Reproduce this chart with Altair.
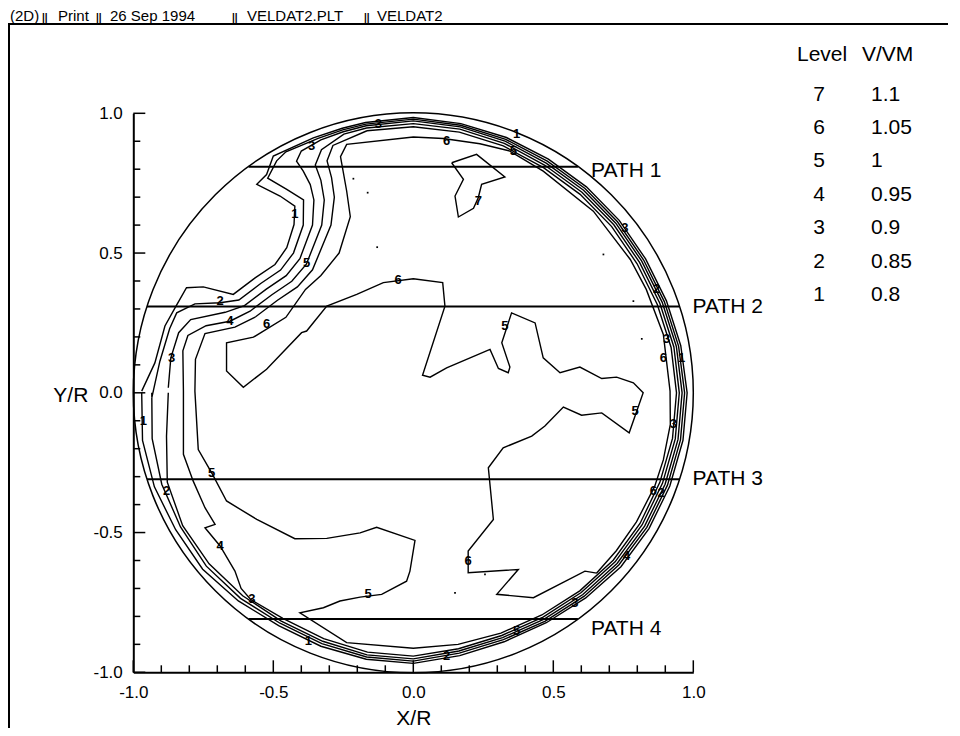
import altair as alt
import numpy as np
import pandas as pd

FONT = "Liberation Sans"
W, H = 560, 559

# ---------------- data ----------------
# wall bundle: station angles (deg) and radii of contours 1..5
rim_angles = [105, 100, 90, 80, 70, 60, 50, 40, 30, 20, 10, 0, -10, -20, -30,
              -40, -50, -60, -70, -80, -90, -100, -110, -120, -130, -140, -150,
              -160, -170, -180]
c1_rim_r = [0.980, 0.982, 0.985, 0.978, 0.972, 0.965, 0.962, 0.960, 0.958, 0.962,
            0.970, 0.978, 0.978, 0.975, 0.972, 0.968, 0.958, 0.950, 0.948, 0.955,
            0.968, 0.968, 0.965, 0.962, 0.972, 0.982, 0.980, 0.984, 0.982, 0.970]
c2_rim_r = [0.974, 0.976, 0.979, 0.972, 0.965, 0.957, 0.954, 0.952, 0.950, 0.954,
            0.962, 0.969, 0.969, 0.966, 0.963, 0.958, 0.950, 0.943, 0.940, 0.946,
            0.960, 0.960, 0.955, 0.952, 0.960, 0.965, 0.960, 0.956, 0.947, 0.934]
c3_rim_r = [0.967, 0.970, 0.973, 0.966, 0.958, 0.949, 0.946, 0.944, 0.942, 0.946,
            0.954, 0.960, 0.960, 0.957, 0.954, 0.950, 0.942, 0.935, 0.932, 0.938,
            0.952, 0.952, 0.946, 0.943, 0.948, 0.952, 0.951, 0.935, 0.895, 0.875]
c4_rim_angles = rim_angles[:24]
c4_rim_r = [0.958, 0.962, 0.963, 0.958, 0.950, 0.940, 0.937, 0.935, 0.933, 0.937,
            0.945, 0.950, 0.950, 0.947, 0.944, 0.941, 0.933, 0.927, 0.924, 0.930,
            0.942, 0.942, 0.936, 0.932]
c5_rim_angles = rim_angles[1:19]
c5_rim_r = [0.952, 0.952, 0.947, 0.940, 0.930, 0.927, 0.925, 0.923, 0.927, 0.935,
            0.940, 0.940, 0.937, 0.935, 0.932, 0.925, 0.918, 0.915]

# left "arm" of contours 1..5 (x/R, y/R)
c1_arm = [(-0.970, 0.006), (-0.923, 0.107), (-0.887, 0.239), (-0.851, 0.304),
          (-0.810, 0.376), (-0.750, 0.379), (-0.643, 0.352), (-0.565, 0.411),
          (-0.494, 0.459), (-0.452, 0.519), (-0.426, 0.602), (-0.423, 0.668),
          (-0.476, 0.704), (-0.559, 0.746), (-0.524, 0.781), (-0.500, 0.847),
          (-0.357, 0.912)]
c2_arm = [(-0.934, -0.018), (-0.905, 0.113), (-0.870, 0.230), (-0.845, 0.286),
          (-0.780, 0.318), (-0.690, 0.322), (-0.623, 0.332), (-0.545, 0.391),
          (-0.474, 0.439), (-0.428, 0.500), (-0.393, 0.600), (-0.392, 0.690),
          (-0.452, 0.728), (-0.520, 0.768), (-0.488, 0.830), (-0.455, 0.862),
          (-0.340, 0.910)]
c3_arm = [(-0.875, 0.018), (-0.866, 0.125), (-0.838, 0.215), (-0.795, 0.262),
          (-0.672, 0.288), (-0.603, 0.312), (-0.525, 0.371), (-0.454, 0.419),
          (-0.405, 0.480), (-0.360, 0.600), (-0.355, 0.690), (-0.368, 0.745),
          (-0.393, 0.793), (-0.417, 0.829), (-0.400, 0.865), (-0.330, 0.905)]
c4_arm = [(-0.821, 0.006), (-0.823, 0.150), (-0.805, 0.205), (-0.740, 0.240),
          (-0.655, 0.256), (-0.583, 0.292), (-0.505, 0.351), (-0.434, 0.399),
          (-0.382, 0.460), (-0.327, 0.600), (-0.318, 0.690), (-0.330, 0.760),
          (-0.350, 0.815), (-0.328, 0.870)]
c4_zigzag = [(-0.580, -0.740), (-0.615, -0.700), (-0.637, -0.638), (-0.690, -0.548),
             (-0.744, -0.483), (-0.708, -0.471), (-0.744, -0.411), (-0.786, -0.316),
             (-0.821, -0.220), (-0.821, 0.006)]
c5_loop = [(0.160, -0.900), (0.000, -0.914), (-0.238, -0.894), (-0.405, -0.787),
           (-0.321, -0.769), (-0.262, -0.745), (-0.190, -0.731), (-0.113, -0.721),
           (-0.024, -0.674), (-0.012, -0.638), (0.006, -0.528), (-0.131, -0.481),
           (-0.190, -0.501), (-0.309, -0.521), (-0.423, -0.522), (-0.559, -0.453),
           (-0.667, -0.387), (-0.718, -0.290), (-0.768, -0.203), (-0.780, 0.006)]
c5_arm = [(-0.778, 0.120), (-0.744, 0.212), (-0.637, 0.235), (-0.563, 0.272),
          (-0.485, 0.331), (-0.414, 0.379), (-0.360, 0.440), (-0.294, 0.600),
          (-0.282, 0.700), (-0.292, 0.770), (-0.308, 0.830), (-0.287, 0.885)]
c6_line = [(0.655, -0.645), (0.613, -0.638), (0.429, -0.733), (0.298, -0.721),
           (0.375, -0.632), (0.196, -0.644), (0.196, -0.566), (0.286, -0.453),
           (0.268, -0.268), (0.321, -0.197), (0.423, -0.155), (0.470, -0.119),
           (0.536, -0.051), (0.601, -0.080), (0.673, -0.072), (0.771, -0.143),
           (0.821, 0.000), (0.786, 0.036), (0.726, 0.056), (0.673, 0.051),
           (0.595, 0.092), (0.524, 0.072), (0.464, 0.125), (0.435, 0.250),
           (0.351, 0.286), (0.316, 0.179), (0.345, 0.092), (0.339, 0.072),
           (0.304, 0.087), (0.274, 0.155), (0.119, 0.089), (0.060, 0.056),
           (0.033, 0.063), (0.113, 0.310), (0.105, 0.394), (0.000, 0.408),
           (-0.107, 0.394), (-0.202, 0.352), (-0.309, 0.310), (-0.381, 0.221),
           (-0.399, 0.215), (-0.524, 0.084), (-0.607, 0.020), (-0.667, 0.078),
           (-0.667, 0.179), (-0.571, 0.199), (-0.455, 0.270), (-0.385, 0.370),
           (-0.330, 0.420), (-0.265, 0.500), (-0.225, 0.630), (-0.238, 0.722),
           (-0.260, 0.845), (-0.238, 0.889), (0.000, 0.915), (0.107, 0.910),
           (0.238, 0.891), (0.345, 0.865), (0.464, 0.793), (0.643, 0.650),
           (0.775, 0.477), (0.832, 0.370), (0.893, 0.209), (0.917, 0.006),
           (0.918, -0.113), (0.893, -0.240), (0.862, -0.335), (0.797, -0.462),
           (0.725, -0.565), (0.655, -0.645)]
c7_loop = [(0.137, 0.823), (0.226, 0.853), (0.327, 0.772), (0.244, 0.746),
           (0.232, 0.698), (0.215, 0.660), (0.161, 0.629), (0.149, 0.704),
           (0.179, 0.764), (0.137, 0.823)]

# contour labels
lab_text = ["1", "2", "4", "6", "3", "5", "3", "3", "6", "5", "1", "7", "3", "2",
            "3", "6", "1", "5", "6", "5", "3", "6", "2", "4", "3", "5", "2", "1",
            "3", "4", "5", "5", "6", "2", "1"]
lab_x = [-0.423, -0.690, -0.655, -0.524, -0.863, -0.381, -0.363, -0.125, 0.119,
         0.357, 0.369, 0.232, 0.756, 0.869, 0.905, 0.893, 0.958, 0.327, -0.054,
         0.792, 0.929, 0.857, 0.885, 0.762, 0.577, 0.369, 0.119, -0.375, -0.577,
         -0.690, -0.720, -0.161, 0.196, -0.881, -0.964]
lab_y = [0.638, 0.327, 0.256, 0.245, 0.125, 0.465, 0.883, 0.960, 0.900, 0.865,
         0.925, 0.686, 0.590, 0.370, 0.191, 0.125, 0.125, 0.239, 0.402, -0.065,
         -0.113, -0.352, -0.360, -0.584, -0.751, -0.853, -0.942, -0.888, -0.739,
         -0.548, -0.286, -0.721, -0.602, -0.352, -0.101]

dot_x = [-0.214, -0.163, -0.129, 0.679, 0.786, 0.816, 0.256, 0.149]
dot_y = [0.766, 0.716, 0.521, 0.495, 0.328, 0.193, -0.650, -0.716]

path_names = ["PATH 1", "PATH 2", "PATH 3", "PATH 4"]
path_y = [0.809, 0.309, -0.309, -0.809]
path_x_left = [-0.588, -0.951, -0.951, -0.588]
path_x_right = [0.588, 0.951, 0.951, 0.588]

levels = [7, 6, 5, 4, 3, 2, 1]
vvm = ["1.1", "1.05", "1", "0.95", "0.9", "0.85", "0.8"]

tick_major = [-1.0, -0.5, 0.0, 0.5, 1.0]
tick_minor = [-0.9, -0.8, -0.7, -0.6, -0.4, -0.3, -0.2, -0.1,
              0.1, 0.2, 0.3, 0.4, 0.6, 0.7, 0.8, 0.9]

title_parts = ["(2D)", "||", "Print", "||", "26 Sep 1994", "||", "VELDAT2.PLT", "||", "VELDAT2"]


# ---------------- build tables ----------------
def rim(angles, radii):
    a = np.radians(np.array(angles, dtype=float))
    r = np.array(radii, dtype=float)
    return list(zip(r * np.cos(a), r * np.sin(a)))


c5_pts = rim(c5_rim_angles, c5_rim_r) + c5_loop + c5_arm
c5_pts.append(c5_pts[0])
paths = {
    "c1": c1_arm + rim(rim_angles, c1_rim_r),
    "c2": c2_arm + rim(rim_angles, c2_rim_r),
    "c3": c3_arm + rim(rim_angles, c3_rim_r),
    "c4": c4_arm + rim(c4_rim_angles, c4_rim_r) + c4_zigzag,
    "c5": c5_pts,
    "c6": c6_line,
    "c7": c7_loop,
}
rows = []
for cid, pts in paths.items():
    for i, (px, py) in enumerate(pts):
        rows.append({"cid": cid, "i": i, "x": float(px), "y": float(py)})
cont_df = pd.DataFrame(rows)
lab_df = pd.DataFrame({"t": lab_text, "x": lab_x, "y": lab_y})
dot_df = pd.DataFrame({"x": dot_x, "y": dot_y})
path_df = pd.DataFrame({"name": path_names, "y": path_y, "x1": path_x_left, "x2": path_x_right})

# ---------------- scales & axes ----------------
LE = "datum.value < 0 ? '-' + format(-datum.value, '.1f') : format(datum.value, '.1f')"
xs = alt.Scale(domain=[-1, 1], nice=False, zero=False)
ys = alt.Scale(domain=[-1, 1], nice=False, zero=False)
x_axis = alt.Axis(values=tick_major, labelExpr=LE, ticks=False, tickSize=0, grid=False,
                  domainColor="black", domainWidth=2, labelFont=FONT, labelFontSize=17,
                  labelColor="black", labelPadding=12, labelFlush=False, labelOverlap=False,
                  title="X/R", titleFont=FONT, titleFontSize=21, titleFontWeight="normal",
                  titleColor="black", titleY=46, titleBaseline="middle")
y_axis = alt.Axis(values=tick_major, labelExpr=LE, ticks=False, tickSize=0, grid=False,
                  domainColor="black", domainWidth=2, labelFont=FONT, labelFontSize=17,
                  labelColor="black", labelPadding=11, labelFlush=False, labelOverlap=False,
                  title="Y/R", titleAngle=0, titleX=-63, titleY=282, titleAlign="center",
                  titleBaseline="middle", titleFont=FONT, titleFontSize=21,
                  titleFontWeight="normal", titleColor="black")


def X(f):
    return alt.X(f, scale=xs, axis=x_axis)


def Y(f):
    return alt.Y(f, scale=ys, axis=y_axis)


layers = []

contours = alt.Chart(cont_df).mark_line(color="black", strokeWidth=1.4).encode(
    x=X("x:Q"), y=Y("y:Q"), detail="cid:N", order="i:Q")
layers.append(contours)

circle = alt.Chart(pd.DataFrame({"r": [1.0]})).mark_arc(
    theta=0, theta2=6.2832, fillOpacity=0, stroke="black", strokeWidth=1.5
).encode(radius=alt.Radius("r:Q", scale=alt.Scale(type="linear", domain=[0, 1], range=[0, W / 2])))
layers.append(circle)

rules = alt.Chart(path_df).mark_rule(color="black", strokeWidth=2).encode(
    x=X("x1:Q"), x2="x2:Q", y=Y("y:Q"))
layers.append(rules)

path_dy = {"PATH 1": 4, "PATH 2": 1, "PATH 3": 0, "PATH 4": 10}
for n in path_names:
    layers.append(
        alt.Chart(path_df).transform_filter(alt.datum.name == n).mark_text(
            align="left", baseline="middle", dx=13, dy=path_dy[n], fontSize=21, font=FONT,
            color="black").encode(x=X("x2:Q"), y=Y("y:Q"), text="name:N"))

labels = alt.Chart(lab_df).mark_text(fontSize=13, fontWeight="bold", font=FONT, color="black").encode(
    x=X("x:Q"), y=Y("y:Q"), text="t:N")
layers.append(labels)

dots = alt.Chart(dot_df).mark_point(shape="square", filled=True, size=3, color="black", opacity=1).encode(
    x=X("x:Q"), y=Y("y:Q"))
layers.append(dots)

for vals, ln in ((tick_major, 12), (tick_minor, 7)):
    tdf = pd.DataFrame({"v": vals})
    layers.append(alt.Chart(tdf).mark_rule(color="black", strokeWidth=1.5).encode(
        x=X("v:Q"), y=alt.value(H), y2=alt.value(H - ln)))
    layers.append(alt.Chart(tdf).mark_rule(color="black", strokeWidth=1.5).encode(
        y=Y("v:Q"), x=alt.value(0), x2=alt.value(ln)))

# legend table (plot-area pixel offsets)
layers.append(alt.Chart(pd.DataFrame({"a": [0]})).mark_text(
    text="Level", align="left", baseline="middle", fontSize=21, font=FONT, color="black"
).encode(x=alt.value(663.7), y=alt.value(-58)))
layers.append(alt.Chart(pd.DataFrame({"a": [0]})).mark_text(
    text="V/VM", align="left", baseline="middle", fontSize=21, font=FONT, color="black"
).encode(x=alt.value(728.7), y=alt.value(-58)))
layers.append(alt.Chart(pd.DataFrame({"a": [0]})).mark_text(
    text=[str(v) for v in levels], align="center", baseline="alphabetic", lineHeight=33.35,
    fontSize=21, font=FONT, color="black"
).encode(x=alt.value(685.7), y=alt.value(-12.5)))
layers.append(alt.Chart(pd.DataFrame({"a": [0]})).mark_text(
    text=vvm, align="left", baseline="alphabetic", lineHeight=33.35,
    fontSize=21, font=FONT, color="black"
).encode(x=alt.value(737.7), y=alt.value(-12.5)))

# header bar and frame
title_x = [10, 42, 58, 96, 110, 232, 247, 364, 377]
for t, px in zip(title_parts, title_x):
    small = t == "||"
    layers.append(alt.Chart(pd.DataFrame({"a": [0]})).mark_text(
        text=t, align="left", baseline="alphabetic", fontSize=10 if small else 15,
        fontWeight="bold" if small else "normal", font=FONT, color="black"
    ).encode(x=alt.value(px - 133.3), y=alt.value(21 - 113.3)))
layers.append(alt.Chart(pd.DataFrame({"a": [0]})).mark_rule(color="black", strokeWidth=2).encode(
    x=alt.value(-126), x2=alt.value(830), y=alt.value(24 - 113.3)))
layers.append(alt.Chart(pd.DataFrame({"a": [0]})).mark_rule(color="black", strokeWidth=2).encode(
    x=alt.value(-124.3), y=alt.value(24 - 113.3), y2=alt.value(640)))

chart = alt.layer(*layers).properties(
    width=W, height=H,
    padding={"left": 125.3, "top": 105.3, "right": 254.7, "bottom": 55.7},
    autosize=alt.AutoSizeParams(type="none"),
    background="white",
).configure_view(stroke=None)

chart.save("out.html", embed_options={"renderer": "svg", "actions": False})
